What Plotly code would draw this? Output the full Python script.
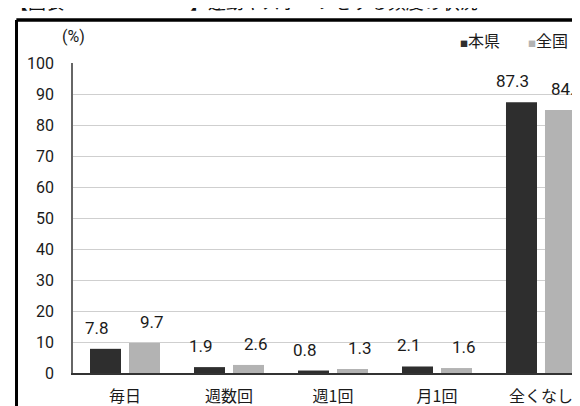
import plotly.graph_objects as go

# data
categories = ['毎日', '週数回', '週1回', '月1回', '全くなし']
pref_values = [7.8, 1.9, 0.8, 2.1, 87.3]      # 本県
nation_values = [9.7, 2.6, 1.3, 1.6, 84.8]    # 全国
series_names = ['本県', '全国']
y_ticks = [0, 10, 20, 30, 40, 50, 60, 70, 80, 90, 100]

dark = '#2e2e2e'
light = '#b3b3b3'
num_font = 'Roboto, sans-serif'
jp_font = 'Noto Sans CJK JP, sans-serif'

fig = go.Figure()
fig.add_trace(go.Bar(x=categories, y=pref_values, name=series_names[0],
                     marker=dict(color=dark, line=dict(width=0))))
fig.add_trace(go.Bar(x=categories, y=nation_values, name=series_names[1],
                     marker=dict(color=light, line=dict(width=0))))

# value labels, dark ones shifted left, light ones shifted right
for i, cat in enumerate(categories):
    for val, shift in ((pref_values[i], -28), (nation_values[i], 27)):
        fig.add_annotation(x=i, y=val, text=f"{val:.1f}", showarrow=False,
                           xshift=shift, yshift=21, yanchor='middle',
                           font=dict(family=num_font, size=17, color='#1a1a1a'))

# legend drawn as text with small square markers
fig.add_annotation(xref='paper', yref='paper', x=0.747, y=1.074, xanchor='left', yanchor='middle',
                   text=f"<span style='font-size:8px;color:{dark}'>■</span>{series_names[0]}",
                   showarrow=False, font=dict(family=jp_font, size=16, color='#1a1a1a'))
fig.add_annotation(xref='paper', yref='paper', x=0.88, y=1.074, xanchor='left', yanchor='middle',
                   text=f"<span style='font-size:8px;color:{light}'>■</span>{series_names[1]}",
                   showarrow=False, font=dict(family=jp_font, size=16, color='#1a1a1a'))

# unit label
fig.add_annotation(xref='paper', yref='paper', x=0.0, y=1.084, xanchor='center', yanchor='middle',
                   text='(%)', showarrow=False,
                   font=dict(family=num_font, size=16, color='#1a1a1a'))

# cut-off title above the frame
fig.add_annotation(xref='paper', yref='paper', x=-0.126, y=1.1516, xanchor='left', yanchor='bottom',
                   text='【図表　　　　　　　】運動やスポーツをする頻度の状況',
                   showarrow=False, font=dict(family=jp_font, size=18, color='#111111'))

# frame lines
fig.add_shape(type='line', xref='paper', yref='paper', x0=-0.11, x1=1.0, y0=1.1387, y1=1.1387,
              line=dict(color='#000000', width=3.5))
fig.add_shape(type='line', xref='paper', yref='paper', x0=-0.1097, x1=-0.1097, y0=1.1387, y1=-0.2,
              line=dict(color='#000000', width=3))

fig.update_layout(
    width=580, height=406,
    margin=dict(l=65, r=0, t=55, b=41),
    barmode='group', bargap=0.25, bargroupgap=0.205,
    showlegend=False,
    plot_bgcolor='white', paper_bgcolor='white',
    xaxis=dict(range=[-0.5, 4.452], showgrid=False, showline=True, linecolor='#333333', linewidth=2,
               ticks='', tickfont=dict(family=jp_font, size=16, color='#1a1a1a'), ticklabelstandoff=8),
    yaxis=dict(range=[0, 100], tickvals=y_ticks, showgrid=True, gridcolor='#cfcfcf', gridwidth=1,
               showline=True, linecolor='#666666', linewidth=1.5, ticks='', zeroline=False,
               tickfont=dict(family=num_font, size=16, color='#1a1a1a'), ticklabelstandoff=14),
)

fig.write_html("out.html")
